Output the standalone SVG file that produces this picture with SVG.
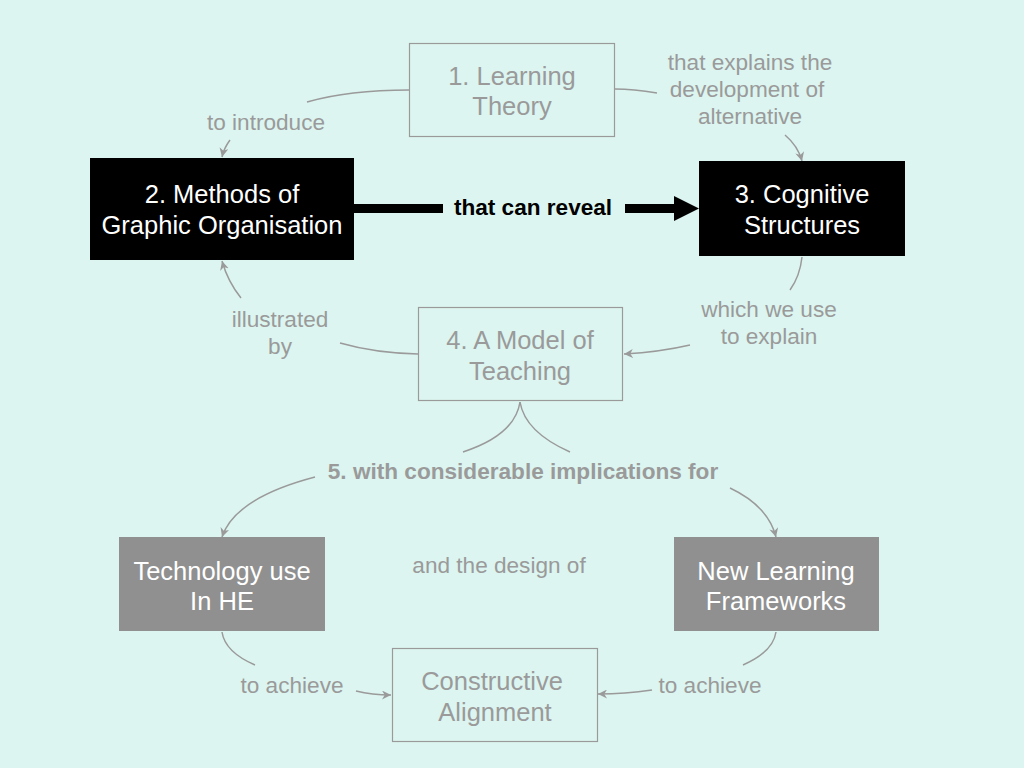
<svg xmlns="http://www.w3.org/2000/svg" width="1024" height="768" viewBox="0 0 1024 768">
<defs>
<style>
.node-text{font-family:"Liberation Sans",Arial,Helvetica,sans-serif;font-size:25.5px;text-anchor:middle}
.lbl{font-family:"Liberation Sans",Arial,Helvetica,sans-serif;font-size:22.6px;text-anchor:middle;fill:#9a9a9a}
.outline{fill:none;stroke:#9a9a9a;stroke-width:1.2}
.conn{fill:none;stroke:#9a9a9a;stroke-width:1.5}
.gt{fill:#9a9a9a}
.wt{fill:#ffffff}
</style>
<marker id="ah" viewBox="0 0 10 10" refX="10" refY="5" markerWidth="9" markerHeight="9" markerUnits="userSpaceOnUse" orient="auto">
<path d="M0,0 L10,5 L0,10 L3,5 Z" fill="#9a9a9a"/>
</marker>
</defs>
<rect x="0" y="0" width="1024" height="768" fill="#dcf5f0"/>

<g id="connectors">
<path class="conn" d="M409,90 C370,90 335,94 307,102"/>
<path class="conn" d="M230,140 Q224,148 222,157" marker-end="url(#ah)"/>
<path class="conn" d="M615,89 C630,89 645,91 657,93"/>
<path class="conn" d="M785,135 Q798,146 802,161" marker-end="url(#ah)"/>
<line x1="354" y1="208.5" x2="443" y2="208.5" stroke="#000" stroke-width="9"/>
<line x1="625" y1="208.5" x2="676" y2="208.5" stroke="#000" stroke-width="9"/>
<path d="M674,196 L699,208.5 L674,221 Z" fill="#000"/>
<path class="conn" d="M802,257 Q800,276 790,290"/>
<path class="conn" d="M690,345 Q660,352 624,354" marker-end="url(#ah)"/>
<path class="conn" d="M418,354 Q375,353 340,343"/>
<path class="conn" d="M241,298 Q228,282 222,261" marker-end="url(#ah)"/>
<path class="conn" d="M520,402 Q515,435 463,452"/>
<path class="conn" d="M520,402 Q525,432 570,452"/>
<path class="conn" d="M315,477 Q235,498 222,537" marker-end="url(#ah)"/>
<path class="conn" d="M730,488 Q768,506 776,537" marker-end="url(#ah)"/>
<path class="conn" d="M222,632 Q225,652 255,665"/>
<path class="conn" d="M356,691 Q372,695 391,695" marker-end="url(#ah)"/>
<path class="conn" d="M776,632 Q773,652 743,665"/>
<path class="conn" d="M652,690 Q625,694 598,694" marker-end="url(#ah)"/>
</g>

<g id="node1">
<rect class="outline" x="409.5" y="43.5" width="205" height="93"/>
<text class="node-text gt" x="512" y="85">1. Learning</text>
<text class="node-text gt" x="512" y="115">Theory</text>
</g>
<g id="node2">
<rect x="90" y="158" width="264" height="102" fill="#000"/>
<text class="node-text wt" x="222" y="203">2. Methods of</text>
<text class="node-text wt" x="222" y="234">Graphic Organisation</text>
</g>
<g id="node3">
<rect x="699" y="161" width="206" height="95" fill="#000"/>
<text class="node-text wt" x="802" y="203">3. Cognitive</text>
<text class="node-text wt" x="802" y="234">Structures</text>
</g>
<g id="node4">
<rect class="outline" x="418.5" y="307.5" width="204" height="93"/>
<text class="node-text gt" x="520" y="349">4. A Model of</text>
<text class="node-text gt" x="520" y="380">Teaching</text>
</g>
<g id="node-tech">
<rect x="119" y="537" width="206" height="94" fill="#909090"/>
<text class="node-text wt" x="222" y="580">Technology use</text>
<text class="node-text wt" x="222" y="610">In HE</text>
</g>
<g id="node-frameworks">
<rect x="674" y="537" width="205" height="94" fill="#909090"/>
<text class="node-text wt" x="776" y="580">New Learning</text>
<text class="node-text wt" x="776" y="610">Frameworks</text>
</g>
<g id="node-alignment">
<rect class="outline" x="392.5" y="648.5" width="205" height="93"/>
<text class="node-text gt" x="492" y="690">Constructive</text>
<text class="node-text gt" x="495" y="721">Alignment</text>
</g>

<g id="labels">
<text class="lbl" x="266" y="130">to introduce</text>
<text class="lbl" x="750" y="70">that explains the</text>
<text class="lbl" x="747" y="97">development of</text>
<text class="lbl" x="750" y="124">alternative</text>
<text class="lbl" x="533" y="215" style="font-weight:bold;fill:#000">that can reveal</text>
<text class="lbl" x="280" y="327">illustrated</text>
<text class="lbl" x="280" y="354">by</text>
<text class="lbl" x="769" y="317">which we use</text>
<text class="lbl" x="769" y="344">to explain</text>
<text class="lbl" x="523" y="479" style="font-weight:bold">5. with considerable implications for</text>
<text class="lbl" x="499" y="573">and the design of</text>
<text class="lbl" x="292" y="693">to achieve</text>
<text class="lbl" x="710" y="693">to achieve</text>
</g>
</svg>
